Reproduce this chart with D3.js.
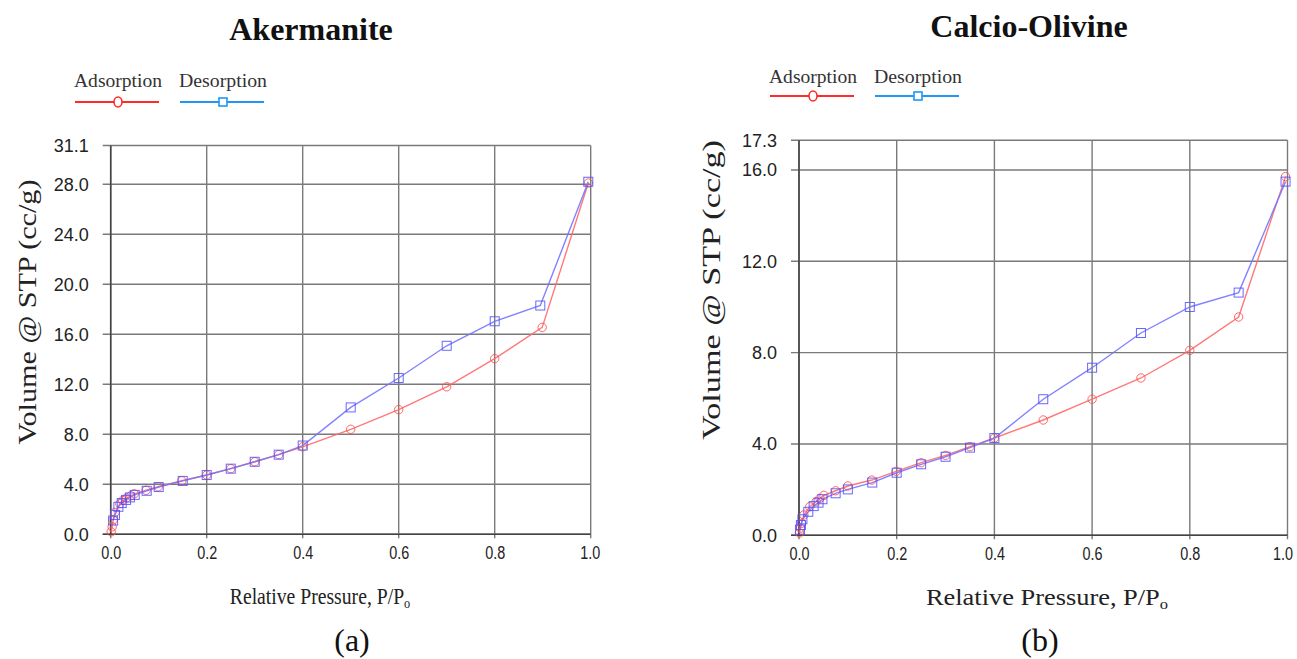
<!DOCTYPE html>
<html>
<head>
<meta charset="utf-8">
<script src="https://cdn.jsdelivr.net/npm/d3@7"></script>
<style>
  html, body { margin: 0; padding: 0; background: #fff; }
  svg { display: block; }
</style>
</head>
<body>
<svg id="chart" width="1297" height="659"></svg>
<script>
// ---------- DATA ----------
const akAdsP = [0.001, 0.003, 0.005, 0.009, 0.019, 0.025, 0.033, 0.042, 0.049, 0.074, 0.099, 0.148, 0.2, 0.25, 0.3, 0.35, 0.4, 0.5, 0.6, 0.7, 0.8, 0.899, 0.995];
const akAdsV = [0.2, 0.6, 1.15, 1.75, 2.45, 2.7, 2.9, 3.08, 3.24, 3.52, 3.8, 4.28, 4.74, 5.25, 5.8, 6.37, 7.0, 8.4, 9.97, 11.8, 14.05, 16.55, 28.1];
const akDesP = [0.995, 0.895, 0.8, 0.7, 0.6, 0.5, 0.4, 0.35, 0.3, 0.25, 0.2, 0.15, 0.1, 0.075, 0.05, 0.04, 0.032, 0.023, 0.016, 0.009, 0.005];
const akDesV = [28.2, 18.3, 17.04, 15.08, 12.5, 10.15, 7.1, 6.37, 5.8, 5.25, 4.74, 4.27, 3.78, 3.48, 3.15, 2.95, 2.75, 2.5, 2.2, 1.55, 1.1];

const coAdsP = [0.001, 0.003, 0.005, 0.01, 0.022, 0.035, 0.043, 0.051, 0.075, 0.1, 0.149, 0.199, 0.25, 0.3, 0.35, 0.4, 0.5, 0.6, 0.7, 0.8, 0.9, 0.996];
const coAdsV = [0.1, 0.31, 0.52, 0.89, 1.25, 1.47, 1.62, 1.75, 1.95, 2.16, 2.42, 2.8, 3.18, 3.5, 3.88, 4.26, 5.05, 5.96, 6.89, 8.1, 9.56, 15.71];
const coDesP = [0.996, 0.9, 0.8, 0.7, 0.6, 0.5, 0.4, 0.35, 0.3, 0.25, 0.2, 0.15, 0.1, 0.075, 0.048, 0.04, 0.03, 0.019, 0.007, 0.004, 0.002];
const coDesV = [15.49, 10.63, 10.0, 8.86, 7.34, 5.96, 4.26, 3.84, 3.44, 3.11, 2.74, 2.31, 2.01, 1.84, 1.58, 1.43, 1.28, 1.03, 0.70, 0.45, 0.25];

const xTicks = [0, 0.2, 0.4, 0.6, 0.8, 1.0];
const akYTicks = [0, 4, 8, 12, 16, 20, 24, 28, 31.1];
const coYTicks = [0, 4, 8, 12, 16, 17.3];

const titles = ["Akermanite", "Calcio-Olivine"];
const seriesNames = ["Adsorption", "Desorption"];
const panelLabels = ["(a)", "(b)"];
const xTitle = "Relative Pressure, P/P";
const yTitle = "Volume @ STP (cc/g)";

// ---------- LAYOUT ----------
const panels = [
  {
    title: titles[0], label: panelLabels[0],
    ads: akAdsP.map((p, i) => [p, akAdsV[i]]),
    des: akDesP.map((p, i) => [p, akDesV[i]]),
    yMax: 31.1, yTicks: akYTicks,
    left: 110.7, right: 590.7, top: 145.5, bottom: 534.3,
    titleX: 311, titleY: 40,
    legX: 74, legY: 87, legLineY: 102,
    xTitleX: 320, xTitleY: 604, xTitleScale: 0.82,
    yTitleX: 36, yTitleY: 312, yTitleLen: 265,
    labX: 352, labY: 651, lastDx: -1
  },
  {
    title: titles[1], label: panelLabels[1],
    ads: coAdsP.map((p, i) => [p, coAdsV[i]]),
    des: coDesP.map((p, i) => [p, coDesV[i]]),
    yMax: 17.3, yTicks: coYTicks,
    left: 799, right: 1287.5, top: 140.3, bottom: 535.3,
    titleX: 1029, titleY: 37,
    legX: 769, legY: 83, legLineY: 96,
    xTitleX: 1047, xTitleY: 605, xTitleScale: 1.1,
    yTitleX: 720, yTitleY: 290, yTitleLen: 300,
    labX: 1040, labY: 651, lastDx: -5
  }
];

const svg = d3.select("#chart");
const serif = "'Liberation Serif', 'Times New Roman', serif";
const sans = "'Liberation Sans', Arial, sans-serif";

const adsLine = "#ff6a6a", adsMark = "#ff4d4d";
const desLine = "#7474ff", desMark = "#4d4dff";

panels.forEach(pn => {
  const x = d3.scaleLinear().domain([0, 1]).range([pn.left, pn.right]);
  const y = d3.scaleLinear().domain([0, pn.yMax]).range([pn.bottom, pn.top]);
  const g = svg.append("g");

  // Title
  g.append("text").attr("x", pn.titleX).attr("y", pn.titleY)
    .attr("text-anchor", "middle").attr("font-family", serif)
    .attr("font-weight", "bold").attr("font-size", 32).attr("fill", "#111")
    .text(pn.title);

  // Legend
  const legItems = [
    { name: seriesNames[0], color: "#ff2a2a", shape: "circle" },
    { name: seriesNames[1], color: "#2196f3", shape: "square" }
  ];
  legItems.forEach((it, i) => {
    const lx = pn.legX + i * 105;
    g.append("text").attr("x", lx).attr("y", pn.legY)
      .attr("font-family", serif).attr("font-size", 18).attr("fill", "#333")
      .attr("textLength", 88).attr("lengthAdjust", "spacingAndGlyphs")
      .text(it.name);
    g.append("line").attr("x1", lx + 1).attr("x2", lx + 85)
      .attr("y1", pn.legLineY).attr("y2", pn.legLineY)
      .attr("stroke", it.color).attr("stroke-width", 2);
    const cx = lx + 44;
    if (it.shape === "circle") {
      g.append("ellipse").attr("cx", cx).attr("cy", pn.legLineY).attr("rx", 4).attr("ry", 5)
        .attr("fill", "#fff").attr("stroke", it.color).attr("stroke-width", 1.6);
    } else {
      g.append("rect").attr("x", cx - 4).attr("y", pn.legLineY - 4).attr("width", 8).attr("height", 8)
        .attr("fill", "#fff").attr("stroke", it.color).attr("stroke-width", 1.6);
    }
  });

  // Grid
  const grid = g.append("g");
  pn.yTicks.forEach(t => {
    grid.append("line").attr("x1", pn.left - 8).attr("x2", pn.right)
      .attr("y1", y(t)).attr("y2", y(t))
      .attr("stroke", "#7a7a7a").attr("stroke-width", 1.4);
  });
  xTicks.forEach(t => {
    grid.append("line").attr("x1", x(t)).attr("x2", x(t))
      .attr("y1", pn.top).attr("y2", pn.bottom + 4)
      .attr("stroke", "#7a7a7a").attr("stroke-width", 1.4);
  });
  // axis lines (darker)
  g.append("line").attr("x1", pn.left).attr("x2", pn.left).attr("y1", pn.top).attr("y2", pn.bottom)
    .attr("stroke", "#444").attr("stroke-width", 1.6);
  g.append("line").attr("x1", pn.left - 8).attr("x2", pn.right).attr("y1", pn.bottom).attr("y2", pn.bottom)
    .attr("stroke", "#444").attr("stroke-width", 1.6);

  // Y axis labels via d3 axis
  const yAxis = d3.axisLeft(y).tickValues(pn.yTicks).tickFormat(d3.format(".1f")).tickSize(0).tickPadding(22);
  const ya = g.append("g").attr("transform", `translate(${pn.left},0)`).call(yAxis);
  ya.select(".domain").remove();
  ya.selectAll("text").attr("font-family", sans).attr("font-size", 18).attr("fill", "#222");

  // X axis labels via d3 axis
  const xAxis = d3.axisBottom(x).tickValues(xTicks).tickFormat(d3.format(".1f")).tickSize(0).tickPadding(12);
  const xa = g.append("g").attr("transform", `translate(0,${pn.bottom})`).call(xAxis);
  xa.select(".domain").remove();
  xa.selectAll("text").attr("font-family", sans).attr("font-size", 18).attr("fill", "#222")
    .attr("textLength", 20).attr("lengthAdjust", "spacingAndGlyphs")
    .attr("dx", d => d === 1 ? pn.lastDx : 0);

  // Axis titles
  const xt = g.append("text")
    .attr("transform", `translate(${pn.xTitleX},${pn.xTitleY}) scale(${pn.xTitleScale},1)`)
    .attr("text-anchor", "middle").attr("font-family", serif).attr("font-size", 24).attr("fill", "#222");
  xt.append("tspan").text(xTitle);
  xt.append("tspan").attr("font-size", 15).attr("dy", 4).text("o");

  g.append("text").attr("transform", `translate(${pn.yTitleX},${pn.yTitleY}) rotate(-90)`)
    .attr("text-anchor", "middle").attr("font-family", serif).attr("font-size", 25).attr("fill", "#222")
    .attr("textLength", pn.yTitleLen).attr("lengthAdjust", "spacingAndGlyphs")
    .text(yTitle);

  // Panel label
  g.append("text").attr("x", pn.labX).attr("y", pn.labY).attr("text-anchor", "middle")
    .attr("font-family", serif).attr("font-size", 32).attr("fill", "#111").text(pn.label);

  // Series
  const line = d3.line().x(d => x(d[0])).y(d => y(d[1]));
  g.append("path").datum(pn.ads).attr("d", line).attr("fill", "none")
    .attr("stroke", adsLine).attr("stroke-width", 1.4).attr("opacity", 0.9);
  g.append("path").datum(pn.des).attr("d", line).attr("fill", "none")
    .attr("stroke", desLine).attr("stroke-width", 1.4).attr("opacity", 0.9);

  g.append("g").selectAll("circle").data(pn.ads).join("circle")
    .attr("cx", d => x(d[0])).attr("cy", d => y(d[1])).attr("r", 4.2)
    .attr("fill", "none").attr("stroke", adsMark).attr("stroke-width", 1).attr("opacity", 0.85);
  g.append("g").selectAll("rect").data(pn.des).join("rect")
    .attr("x", d => x(d[0]) - 4.5).attr("y", d => y(d[1]) - 4.5).attr("width", 9).attr("height", 9)
    .attr("fill", "none").attr("stroke", desMark).attr("stroke-width", 1).attr("opacity", 0.85);
});
</script>
</body>
</html>
